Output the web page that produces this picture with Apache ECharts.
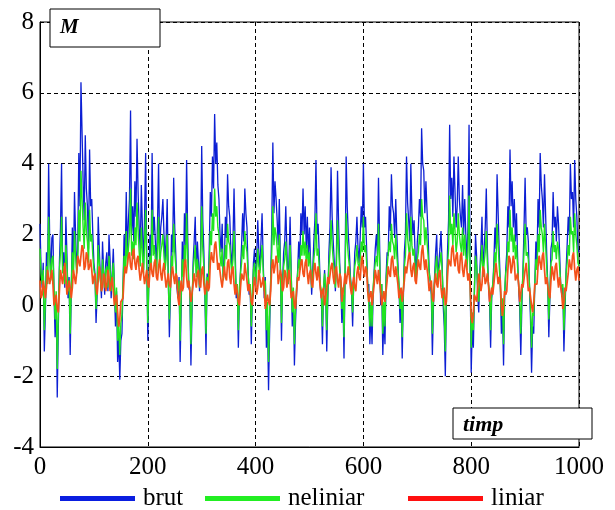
<!DOCTYPE html>
<html>
<head>
<meta charset="utf-8">
<script src="https://cdn.jsdelivr.net/npm/echarts@6/dist/echarts.min.js"></script>
<style>html,body{margin:0;padding:0;background:#fff;}#c{width:615px;height:510px;}</style>
</head>
<body>
<div id="c"></div>
<script>
// samples every STEP time units; "Mid" arrays are the samples half a step later
const STEP = 4;
const xTicks = [0, 200, 400, 600, 800, 1000];
const yTicks = [-4, -2, 0, 2, 4, 6, 8];
const seriesNames = ['brut', 'neliniar', 'liniar'];

const brut = [
2.3,0.5,-1.3,1.5,4.0,0.8,2.0,-0.9,-2.6,1.2,4.0,1.5,2.5,0.2,-1.4,2.2,3.2,1.0,4.3,6.3,3.5,4.8,2.8,4.4,3.0,
1.2,-0.5,2.5,0.8,1.8,0.3,1.5,2.0,0.2,1.6,-0.6,-1.6,-2.1,-0.8,2.0,3.2,2.4,5.5,2.8,3.5,4.7,2.2,3.4,1.0,4.3,
-1.0,2.0,4.3,2.5,1.0,4.0,2.2,3.0,1.2,3.0,-0.9,2.0,3.6,1.4,0.2,-1.6,1.8,2.6,4.1,0.5,-1.7,1.2,2.5,1.8,0.4,
4.5,1.5,-1.4,0.5,3.2,4.2,5.4,4.6,3.0,1.5,0.8,2.5,3.7,2.5,1.0,3.3,0.2,-1.2,1.0,2.6,3.3,2.2,0.3,-1.1,1.2,
0.5,2.4,1.0,2.6,0.2,-1.2,-2.4,0.8,4.6,3.5,2.4,3.0,-1.0,1.5,2.8,0.6,2.5,-0.6,-1.7,0.3,1.8,2.6,3.3,2.8,2.5,
2.2,0.3,1.8,4.1,2.3,0.5,-1.1,1.0,-1.3,1.5,3.9,1.8,0.4,3.8,1.2,-0.5,-1.5,4.2,2.0,0.8,-0.6,1.5,2.5,1.2,2.8,
4.0,2.5,0.5,-1.1,-1.1,1.0,2.0,3.6,0.0,-1.4,-1.1,1.5,2.8,3.7,2.6,3.0,1.2,-0.5,-1.5,1.5,4.2,2.4,4.0,2.0,1.4,
1.8,3.0,5.0,3.8,3.5,2.0,1.0,-1.4,0.8,2.0,1.2,2.1,0.0,-2.0,1.5,5.1,3.6,4.2,2.2,4.2,2.5,3.4,3.0,1.2,5.1,
-1.9,-1.2,2.0,0.3,1.0,2.5,1.6,3.3,0.6,-1.2,0.5,2.2,3.7,1.5,-0.8,-1.7,1.0,2.8,4.4,3.5,3.0,2.6,0.5,-1.4,1.0,
3.6,2.2,0.6,-1.9,-0.8,1.8,3.0,4.3,3.0,3.7,1.5,-0.9,1.6,3.2,2.5,2.8,1.5,0.3,-1.3,1.0,2.5,4.0,3.2,4.1,2.5,
1.5];
const brutMid = [
1.0,1.2,-0.2,0.6,1.8,1.9,0.3,0.2,-0.6,2.2,1.0,0.5,1.4,0.8,0.4,1.0,2.0,1.6,2.8,4.9,2.4,3.3,1.6,2.8,2.0,
0.9,0.3,1.6,0.2,1.0,1.2,0.4,1.3,0.9,0.5,0.4,-0.9,-1.0,0.5,1.2,1.5,3.0,2.0,1.8,2.5,3.2,1.5,2.2,2.5,1.5,
0.8,1.2,2.0,1.8,2.3,1.5,2.5,2.0,1.9,0.8,0.3,1.5,2.2,0.5,0.8,0.0,0.9,1.6,2.0,0.4,-0.2,1.8,0.9,1.2,1.6,
2.4,0.2,0.9,1.6,2.5,3.3,4.0,3.4,2.0,2.3,1.2,1.9,2.8,1.6,1.8,1.7,0.6,0.3,1.7,1.8,2.6,1.0,0.5,0.2,1.6,
1.3,1.5,1.8,1.3,0.8,-0.3,-0.7,2.2,2.6,3.0,1.7,1.2,0.6,1.8,1.6,1.3,1.0,0.4,-0.5,1.0,1.2,2.0,2.0,1.6,1.4,
1.2,1.0,2.4,2.0,1.5,0.2,0.4,0.3,0.2,2.2,2.5,1.2,1.5,2.3,0.6,0.3,1.0,2.8,1.5,0.4,0.6,1.8,1.6,1.9,2.2,
2.2,1.6,0.6,-0.2,0.3,1.6,1.4,1.8,0.6,-0.3,0.8,1.4,2.1,2.8,1.9,2.0,0.5,0.2,0.1,2.0,2.9,1.8,2.6,2.4,0.8,
2.2,2.5,4.0,2.6,2.7,1.0,0.3,0.0,1.5,0.6,1.6,1.2,-0.6,0.2,2.4,3.0,2.5,3.2,2.8,3.0,2.2,2.0,2.0,2.2,1.0,
-0.6,0.4,1.4,-0.2,1.6,0.9,2.2,1.6,0.1,0.2,1.2,1.6,2.6,0.6,-0.1,0.2,1.5,2.2,2.8,2.2,1.8,1.4,-0.1,0.0,2.2,
2.0,1.8,-0.4,-0.6,0.6,1.2,2.2,3.4,2.2,2.6,0.6,0.2,1.8,2.2,1.8,2.3,0.6,0.5,-0.2,1.7,2.0,3.0,2.2,3.0,1.6];

const neliniar = [
1.6,0.6,-0.7,1.1,2.5,0.7,1.4,-0.4,-1.8,1.0,2.5,1.1,1.7,0.4,-0.8,1.5,2.1,0.9,2.7,3.8,2.2,2.9,1.8,2.7,2.0,
1.0,-0.1,1.7,0.7,1.3,0.5,1.1,1.4,0.4,1.2,-0.2,-1.0,-1.4,-0.3,1.4,2.1,1.6,3.3,1.8,2.2,2.9,1.5,2.2,0.9,2.7,
-0.5,1.4,2.7,1.7,0.9,2.5,1.5,2.0,1.0,2.0,-0.4,1.4,2.3,1.1,0.4,-1.0,1.3,1.7,2.6,0.6,-1.1,1.0,1.7,1.3,0.5,
2.8,1.1,-0.8,0.6,2.1,2.6,3.3,2.8,2.0,1.1,0.7,1.7,2.3,1.7,0.9,2.1,0.4,-0.7,0.9,1.7,2.1,1.5,0.5,-0.6,1.0,
0.6,1.6,0.9,1.7,0.4,-0.7,-1.6,0.7,2.8,2.2,1.6,2.0,-0.5,1.1,1.8,0.6,1.7,-0.2,-1.1,0.5,1.3,1.7,2.1,1.8,1.7,
1.5,0.5,1.3,2.6,1.6,0.6,-0.6,0.9,-0.7,1.1,2.4,1.3,0.5,2.4,1.0,-0.1,-0.9,2.6,1.4,0.7,-0.2,1.1,1.7,1.0,1.8,
2.5,1.7,0.6,-0.6,-0.6,0.9,1.4,2.3,0.3,-0.8,-0.6,1.1,1.8,2.3,1.7,2.0,1.0,-0.1,-0.9,1.1,2.6,1.6,2.5,1.4,1.1,
1.3,2.0,3.0,2.4,2.2,1.4,0.9,-0.8,0.7,1.4,1.0,1.5,0.3,-1.3,1.1,3.1,2.3,2.6,1.5,2.6,1.7,2.2,2.0,1.0,3.1,
-1.2,-0.7,1.4,0.5,0.9,1.7,1.2,2.1,0.6,-0.7,0.6,1.5,2.3,1.1,-0.3,-1.1,0.9,1.8,2.7,2.2,2.0,1.7,0.6,-0.8,0.9,
2.3,1.5,0.6,-1.2,-0.3,1.3,2.0,2.7,2.0,2.3,1.1,-0.4,1.2,2.1,1.7,1.8,1.1,0.5,-0.7,0.9,1.7,2.5,2.1,2.6,1.7,
1.1];
const neliniarMid = [
0.9,1.0,0.1,0.6,1.3,1.3,0.5,0.4,-0.2,1.5,0.9,0.6,1.1,0.7,0.5,0.9,1.4,1.2,1.8,3.0,1.6,2.1,1.2,1.8,1.4,
0.8,0.5,1.2,0.4,0.9,1.0,0.5,1.0,0.8,0.6,0.5,-0.4,-0.5,0.6,1.0,1.1,2.0,1.4,1.3,1.7,2.1,1.1,1.5,1.7,1.1,
0.7,1.0,1.4,1.3,1.6,1.1,1.7,1.4,1.3,0.7,0.5,1.1,1.5,0.6,0.7,0.3,0.8,1.2,1.4,0.5,0.1,1.3,0.8,1.0,1.2,
1.6,0.4,0.8,1.2,1.7,2.1,2.5,2.2,1.4,1.6,1.0,1.3,1.8,1.2,1.3,1.2,0.6,0.5,1.2,1.3,1.7,0.9,0.6,0.4,1.2,
1.0,1.1,1.3,1.0,0.7,0.1,-0.3,1.5,1.7,2.0,1.2,1.0,0.6,1.3,1.2,1.0,0.9,0.5,-0.1,0.9,1.0,1.4,1.4,1.2,1.1,
1.0,0.9,1.6,1.4,1.1,0.4,0.5,0.5,0.4,1.5,1.7,1.0,1.1,1.6,0.6,0.5,0.9,1.8,1.1,0.5,0.6,1.3,1.2,1.3,1.5,
1.5,1.2,0.6,0.1,0.5,1.2,1.1,1.3,0.6,0.1,0.7,1.1,1.5,1.8,1.3,1.4,0.6,0.4,0.4,1.4,1.9,1.3,1.7,1.6,0.7,
1.5,1.7,2.5,1.7,1.8,0.9,0.5,0.3,1.1,0.6,1.2,1.0,-0.2,0.4,1.6,2.0,1.7,2.1,1.8,2.0,1.5,1.4,1.4,1.5,0.9,
-0.2,0.5,1.1,0.1,1.2,0.8,1.5,1.2,0.4,0.4,1.0,1.2,1.7,0.6,0.2,0.4,1.1,1.5,1.8,1.5,1.3,1.1,0.2,0.3,1.5,
1.4,1.3,0.0,-0.2,0.6,1.0,1.5,2.2,1.5,1.7,0.6,0.4,1.3,1.5,1.3,1.6,0.6,0.6,0.1,1.2,1.4,2.0,1.5,2.0,1.2];

const liniar = [
0.7,0.3,0.5,0.5,1.0,0.8,0.6,0.0,-0.1,0.4,1.0,0.9,0.8,0.3,0.5,0.5,1.0,0.9,1.4,1.4,1.6,1.1,1.4,1.1,1.0,
0.8,0.5,0.7,0.9,0.5,0.8,0.6,0.8,0.6,0.4,0.2,-0.2,-0.4,0.1,0.8,0.9,1.4,1.1,1.5,1.2,1.3,1.0,0.9,0.9,0.8,
0.6,1.0,0.9,1.2,0.8,1.1,0.9,1.0,0.8,0.7,0.6,0.9,0.8,0.9,0.2,0.4,0.4,1.2,0.8,0.7,0.1,0.6,0.7,0.9,0.6,
1.0,0.6,0.5,0.4,1.2,1.3,1.7,1.4,1.2,0.7,0.8,0.8,1.2,0.8,1.0,0.6,0.6,0.1,0.5,0.8,1.2,0.7,0.6,0.1,0.4,
0.6,0.5,1.0,0.6,0.5,-0.1,0.1,0.4,1.3,1.1,1.2,0.6,0.8,0.5,0.9,0.7,0.7,0.2,0.0,0.4,0.7,1.2,0.9,1.2,0.9,
0.9,0.6,1.0,0.9,1.1,0.5,0.4,0.0,0.5,0.6,1.1,0.8,1.0,0.7,0.9,0.1,0.6,0.6,1.1,0.5,0.6,0.5,0.9,0.8,1.2,
1.0,1.1,0.4,0.3,0.0,0.6,0.8,1.0,0.4,0.2,0.1,0.7,0.9,1.3,1.0,1.1,0.6,0.4,0.1,0.7,0.9,1.4,1.0,1.1,0.7,
1.0,1.1,1.5,1.3,1.3,0.8,0.6,0.2,0.6,0.6,0.9,0.5,0.4,0.0,0.8,1.2,1.6,1.3,1.4,1.0,1.4,1.0,1.1,1.0,0.9,
-0.3,-0.2,0.3,0.5,0.7,0.6,1.0,0.7,0.6,0.1,0.3,0.9,0.9,0.8,0.0,0.0,0.3,1.0,1.3,1.1,1.2,0.7,0.6,0.1,0.5,
1.0,0.8,0.5,0.0,0.1,0.6,1.1,1.2,1.4,1.0,0.8,0.3,0.7,0.9,1.1,0.8,0.8,0.3,0.1,0.4,0.9,1.1,1.4,1.0,1.0,
0.7];
const liniarMid = [
0.2,0.7,0.2,1.0,0.6,1.0,0.0,0.3,-0.2,1.0,0.6,1.2,0.3,0.7,0.2,1.0,0.6,1.4,1.1,1.7,1.0,1.5,1.0,1.3,0.6,
0.9,0.3,1.1,0.4,0.9,0.4,1.0,0.4,0.8,0.0,0.3,-0.6,0.1,0.2,1.1,0.9,1.5,1.0,1.6,1.0,1.4,0.7,1.2,0.6,1.0,
0.5,1.2,0.8,1.3,0.7,1.3,0.7,1.2,0.5,0.9,0.5,1.1,0.6,0.8,0.0,0.7,0.5,1.3,0.5,0.7,0.1,0.9,0.5,1.0,0.5,
1.1,0.3,0.7,0.5,1.5,1.2,1.8,1.0,1.2,0.5,1.1,0.7,1.3,0.6,1.1,0.3,0.6,0.0,0.9,0.7,1.2,0.4,0.6,0.0,0.8,
0.3,1.0,0.5,0.8,-0.1,0.3,0.0,1.1,0.9,1.4,0.6,1.0,0.4,1.0,0.5,1.0,0.2,0.4,-0.1,0.8,0.7,1.3,0.8,1.3,0.6,
1.0,0.5,1.2,0.7,1.1,0.2,0.5,0.0,0.8,0.6,1.2,0.6,1.1,0.5,0.8,0.1,0.9,0.6,1.1,0.3,0.8,0.4,1.1,0.7,1.4,
0.8,1.0,0.1,0.4,0.0,1.0,0.6,1.0,0.0,0.4,0.1,1.1,0.8,1.4,0.8,1.1,0.2,0.5,0.1,1.1,0.9,1.5,0.8,1.2,0.6,
1.3,1.0,1.7,1.0,1.3,0.4,0.7,0.1,0.9,0.5,1.0,0.2,0.5,0.1,1.3,1.1,1.7,1.1,1.5,0.9,1.5,0.8,1.3,0.7,0.6,
-0.5,0.3,0.1,0.9,0.4,1.1,0.6,0.9,0.1,0.5,0.3,1.2,0.6,0.7,-0.3,0.4,0.4,1.4,0.9,1.4,0.7,0.9,0.1,0.6,0.5,
1.2,0.4,0.5,-0.2,0.6,0.6,1.4,1.0,1.5,0.6,0.8,0.2,1.1,0.7,1.2,0.5,0.8,-0.1,0.5,0.4,1.3,1.0,1.5,0.7,1.1];

const seriesColors = ['#0c1fd4', '#1fe41f', '#f4511a'];
const seriesWidths = [1.3, 1.4, 1.7];
const legendColors = ['#0a1ee0', '#22ee22', '#ff1010'];

// interleave on-step samples with the half-step samples
function interleave(main, mid) {
  const out = [];
  for (let i = 0; i < main.length; i++) {
    out.push([i * STEP, main[i]]);
    if (i < mid.length) out.push([i * STEP + STEP / 2, mid[i]]);
  }
  return out;
}

const FONT = "'Liberation Serif', 'Times New Roman', serif";
const chart = echarts.init(document.getElementById('c'), null, { renderer: 'canvas' });

const dataSets = [interleave(brut, brutMid), interleave(neliniar, neliniarMid), interleave(liniar, liniarMid)];
const legendLeft = [60, 205, 408];

chart.setOption({
  animation: false,
  backgroundColor: '#fff',
  grid: { left: 40, right: 36, top: 22, bottom: 63, show: true, borderColor: '#000', borderWidth: 1, backgroundColor: 'transparent' },
  xAxis: {
    type: 'value', min: xTicks[0], max: xTicks[xTicks.length - 1], interval: 200,
    axisLine: { show: true, onZero: false, lineStyle: { color: '#000', width: 1 } },
    axisTick: { show: false },
    axisLabel: { color: '#000', fontFamily: FONT, fontSize: 25, margin: 8, formatter: v => String(v) },
    splitLine: { show: true, lineStyle: { color: '#000', type: [4, 3], width: 1 } }
  },
  yAxis: {
    type: 'value', min: yTicks[0], max: yTicks[yTicks.length - 1], interval: 2,
    axisLine: { show: true, onZero: false, lineStyle: { color: '#000', width: 1 } },
    axisTick: { show: false },
    axisLabel: { color: '#000', fontFamily: FONT, fontSize: 25, margin: 6, formatter: v => String(v) },
    splitLine: { show: true, lineStyle: { color: '#000', type: [4, 3], width: 1 } }
  },
  legend: seriesNames.map((n, k) => ({
    data: [{ name: n, itemStyle: { color: legendColors[k] } }],
    left: legendLeft[k], top: 486, padding: 0,
    icon: 'rect', itemWidth: 75, itemHeight: 5,
    textStyle: { fontFamily: FONT, fontSize: 25, color: '#000', padding: [0, 0, 0, 3] },
    selectedMode: false
  })),
  series: seriesNames.map((n, k) => ({
    name: n, type: 'line', data: dataSets[k],
    showSymbol: false, symbol: 'none',
    lineStyle: { color: seriesColors[k], width: seriesWidths[k] },
    itemStyle: { color: seriesColors[k] },
    z: 2 + k
  })),
  graphic: [
    { type: 'rect', shape: { x: 50, y: 9, width: 110, height: 38 }, style: { fill: '#fff', stroke: '#000', lineWidth: 1 }, z: 100 },
    { type: 'text', x: 60, y: 28, style: { text: 'M', font: "italic bold 21px 'Liberation Serif', serif", fill: '#000', textVerticalAlign: 'middle' }, z: 101 },
    { type: 'rect', shape: { x: 453, y: 408, width: 139, height: 31 }, style: { fill: '#fff', stroke: '#000', lineWidth: 1 }, z: 100 },
    { type: 'text', x: 463, y: 425, style: { text: 'timp', font: "italic bold 22px 'Liberation Serif', serif", fill: '#000', textVerticalAlign: 'middle' }, z: 101 }
  ]
});
</script>
</body>
</html>
